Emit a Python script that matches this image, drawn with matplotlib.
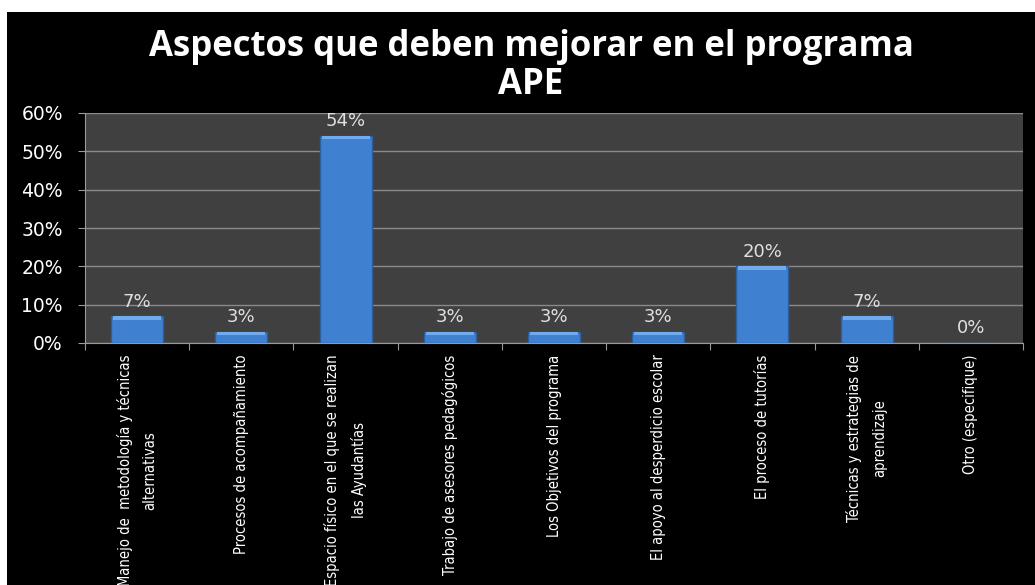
import matplotlib
matplotlib.use("Agg")
import matplotlib.pyplot as plt
from matplotlib.patches import Rectangle
import numpy as np

categories = [
    "Manejo de  metodología y técnicas\nalternativas",
    "Procesos de acompañamiento",
    "Espacio físico en el que se realizan\nlas Ayudantías",
    "Trabajo de asesores pedagógicos",
    "Los Objetivos del programa",
    "El apoyo al desperdicio escolar",
    "El proceso de tutorías",
    "Técnicas y estrategias de\naprendizaje",
    "Otro (especifique)",
]
values = [7, 3, 54, 3, 3, 3, 20, 7, 0]
yticks = [0, 10, 20, 30, 40, 50, 60]
title = "Aspectos que deben mejorar en el programa\nAPE"

fig = plt.figure(figsize=(10.35, 5.85), dpi=100, facecolor="white")
# black backdrop, white strip at top/left like the original screenshot
fig.patches.append(Rectangle((7 / 1035, 0), 1, 1 - 12 / 585, transform=fig.transFigure,
                             facecolor="black", edgecolor="none", zorder=-10))

ax = fig.add_axes([85 / 1035, 1 - 343 / 585, (1023 - 85) / 1035, (343 - 113) / 585])
ax.set_facecolor("#404040")

x = np.arange(len(values))
ax.bar(x, values, width=0.5, color="#4080d0", edgecolor="#2d5e9e", linewidth=1, zorder=3)
# lighter bevel on top of each bar
ax.bar(x, [0.9 if v > 0 else 0 for v in values], bottom=[v - 0.9 for v in values],
       width=0.46, color="#72aaee", edgecolor="none", zorder=4)

for xi, v in zip(x, values):
    ax.text(xi, v + 3.8, f"{v}%", ha="center", va="center", color="#e0e0e0",
            fontsize=13, family="DejaVu Sans", zorder=5)

ax.set_ylim(0, 60)
ax.set_xlim(-0.5, len(values) - 0.5)
ax.set_yticks(yticks)
ax.set_yticklabels([f"{t}%" for t in yticks], color="white", fontsize=13.5, family="DejaVu Sans")
ax.yaxis.grid(True, color="#8a8a8a", linewidth=1, zorder=1)
ax.set_axisbelow(True)

ax.set_xticks(np.arange(len(values) + 1) - 0.5, minor=False)
ax.set_xticklabels([])
ax.tick_params(axis="x", colors="#9a9a9a", length=5, direction="out")
ax.tick_params(axis="y", colors="#9a9a9a", length=5, direction="out", labelcolor="white", pad=11)
for i, c in enumerate(categories):
    ax.text(i, -3.0, c, rotation=90, ha="center", va="top", multialignment="center",
            color="white", fontsize=10.5, family="DejaVu Sans", fontstretch="condensed",
            linespacing=1.85)

for s in ["top", "right"]:
    ax.spines[s].set_visible(False)
ax.spines["left"].set_color("#9a9a9a")
ax.spines["bottom"].set_color("#9a9a9a")

fig.text(0.513, 1 - 66 / 585, title, ha="center", va="center", color="white",
         fontsize=25, fontweight="bold", family="Open Sans", linespacing=1.1)

plt.savefig("out.png", dpi=100, facecolor=fig.get_facecolor())
